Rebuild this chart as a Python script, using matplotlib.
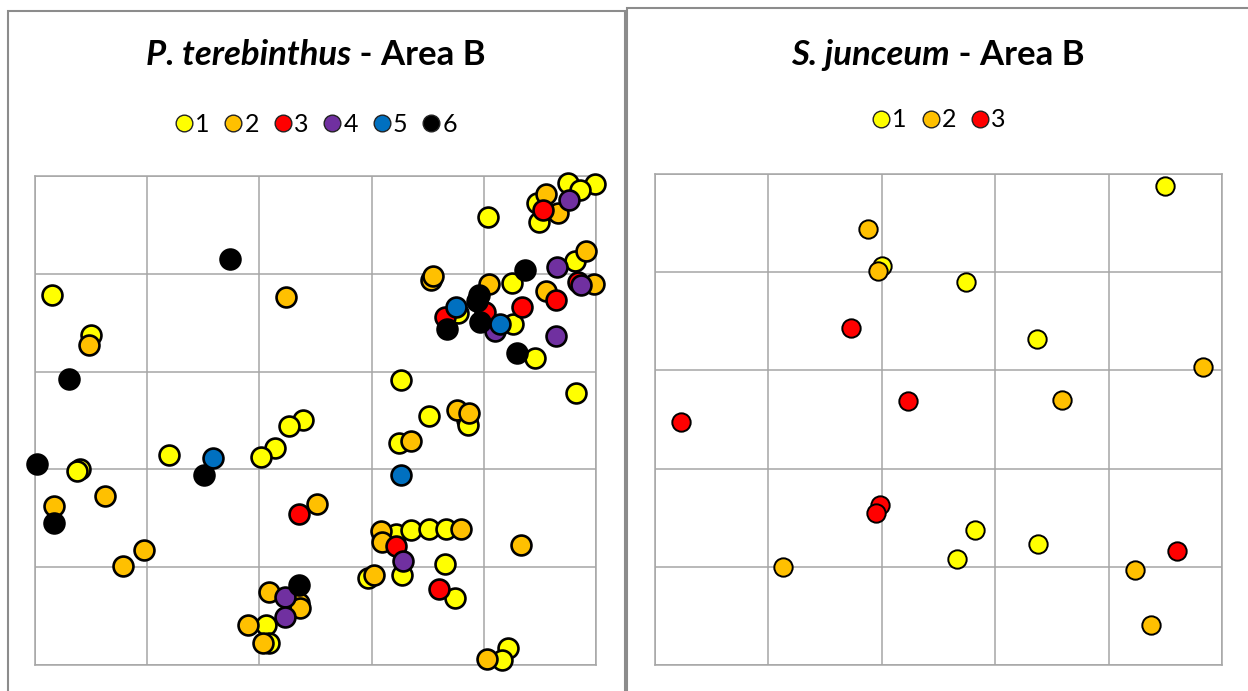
import matplotlib
matplotlib.use("Agg")
import matplotlib.pyplot as plt
from matplotlib.patches import Rectangle
from matplotlib.lines import Line2D

plt.rcParams['font.family'] = ['Lato', 'DejaVu Sans']

# P. terebinthus - Area B (classes 1..6)
pt_x1 = [4.75, 4.99, 4.86, 4.47, 4.49, 4.04, 4.81, 4.25, 3.77, 4.26, 4.46, 0.15, 0.50, 3.26,
         4.82, 3.51, 3.85, 3.86, 3.24, 2.39, 2.26, 2.14, 2.01, 1.19, 0.40, 0.37, 3.22, 3.35,
         3.51, 3.66, 3.27, 2.97, 3.65, 3.74, 2.06, 2.09, 4.22, 4.16]
pt_y1 = [4.93, 4.92, 4.86, 4.72, 4.53, 4.58, 4.13, 3.91, 3.60, 3.49, 3.14, 3.78, 3.37, 2.91,
         2.78, 2.55, 2.51, 2.45, 2.27, 2.51, 2.44, 2.22, 2.13, 2.15, 2.00, 1.98, 1.34, 1.38,
         1.39, 1.39, 0.92, 0.89, 1.03, 0.69, 0.41, 0.23, 0.17, 0.05]
pt_x2 = [4.55, 4.66, 4.91, 4.98, 4.55, 4.05, 3.53, 3.55, 2.24, 0.48, 3.76, 3.87, 3.35, 3.08,
         3.80, 3.09, 3.02, 4.33, 4.03, 0.62, 0.17, 2.51, 0.97, 0.78, 2.09, 2.35, 2.36, 1.90, 2.03]
pt_y2 = [4.82, 4.62, 4.23, 3.90, 3.82, 3.90, 3.94, 3.98, 3.76, 3.27, 2.61, 2.58, 2.29, 1.37,
         1.39, 1.26, 0.92, 1.23, 0.06, 1.73, 1.63, 1.65, 1.18, 1.01, 0.75, 0.63, 0.58, 0.41, 0.22]
pt_x3 = [4.53, 4.64, 4.84, 4.34, 3.65, 4.01, 2.35, 3.22, 3.60]
pt_y3 = [4.65, 3.73, 3.92, 3.66, 3.56, 3.61, 1.54, 1.22, 0.78]
pt_x4 = [4.76, 4.65, 4.87, 4.64, 4.10, 3.28, 2.23, 2.23]
pt_y4 = [4.75, 4.07, 3.89, 3.36, 3.42, 1.06, 0.70, 0.49]
pt_x5 = [3.75, 4.14, 1.59, 3.26]
pt_y5 = [3.66, 3.49, 2.12, 1.94]
pt_x6 = [1.74, 4.37, 3.96, 3.94, 3.97, 3.67, 4.30, 0.30, 0.02, 1.51, 0.17, 2.35]
pt_y6 = [4.15, 4.04, 3.78, 3.72, 3.51, 3.44, 3.19, 2.92, 2.06, 1.94, 1.45, 0.82]

# S. junceum - Area B (classes 1..3)
sj_x1 = [4.50, 2.00, 2.74, 3.37, 2.82, 3.38, 2.66]
sj_y1 = [4.88, 4.06, 3.90, 3.32, 1.37, 1.23, 1.08]
sj_x2 = [1.88, 1.97, 4.83, 3.59, 1.13, 4.23, 4.37]
sj_y2 = [4.44, 4.01, 3.03, 2.70, 1.00, 0.97, 0.41]
sj_x3 = [1.73, 2.23, 0.23, 1.98, 1.95, 4.60]
sj_y3 = [3.43, 2.69, 2.47, 1.63, 1.55, 1.16]

labels = ["1", "2", "3", "4", "5", "6"]
colors = ["#FFFF00", "#FFC000", "#FF0000", "#7030A0", "#0070C0", "#000000"]

W, H = 1248, 691
fig = plt.figure(figsize=(W / 100, H / 100), dpi=100)

# panel frames
fig.patches.append(Rectangle((8 / W, -0.1), 617 / W, 1.1 - 11 / H, transform=fig.transFigure,
                             fill=False, edgecolor="#8c8c8c", linewidth=1.5))
fig.patches.append(Rectangle((627 / W, -0.1), 0.6, 1.1 - 8 / H, transform=fig.transFigure,
                             fill=False, edgecolor="#8c8c8c", linewidth=1.5))


def setup(ax):
    ax.set_xlim(0, 5)
    ax.set_ylim(0, 5)
    ax.set_xticks([0, 1, 2, 3, 4, 5])
    ax.set_yticks([0, 1, 2, 3, 4, 5])
    ax.tick_params(length=0, labelbottom=False, labelleft=False)
    ax.grid(True, color="#a6a6a6", linewidth=1.1)
    ax.set_axisbelow(True)
    for s in ax.spines.values():
        s.set_color("#a6a6a6")
        s.set_linewidth(1.1)


def title(xc, yc, ital, rest):
    r = fig.canvas.get_renderer()
    t1 = fig.text(0, yc, ital, fontsize=25, fontweight="bold", fontstyle="italic", va="center")
    t2 = fig.text(0, yc, rest, fontsize=25, fontweight="bold", va="center")
    w1 = t1.get_window_extent(r).width / W
    w2 = t2.get_window_extent(r).width / W
    x0 = xc - (w1 + w2) / 2
    t1.set_x(x0)
    t2.set_x(x0 + w1)


def legend(ax, n, y):
    handles = [Line2D([], [], linestyle="none", marker="o", markersize=12,
                      markerfacecolor=colors[i], markeredgecolor="#222222",
                      markeredgewidth=1.0) for i in range(n)]
    ax.legend(handles, labels[:n], ncol=n, loc="center", bbox_to_anchor=(0.5, y),
              frameon=False, handletextpad=0.05, columnspacing=0.55, fontsize=18,
              handlelength=0.8, borderaxespad=0)


# left panel
ax1 = fig.add_axes([35 / W, 26 / H, 561 / W, 489 / H])
setup(ax1)
pt = [(pt_x1, pt_y1), (pt_x2, pt_y2), (pt_x3, pt_y3), (pt_x4, pt_y4), (pt_x6, pt_y6), (pt_x5, pt_y5)]
order = [0, 1, 2, 3, 5, 4]
for (xs, ys), k in zip(pt, order):
    ax1.scatter(xs, ys, s=205, c=colors[k], edgecolors="black", linewidths=1.9,
                clip_on=False, zorder=3)
legend(ax1, 6, 1.105)
title(316 / W, 1 - 55 / H, "P. terebinthus", " - Area B")

# right panel
ax2 = fig.add_axes([655 / W, 26 / H, 567 / W, 491 / H])
setup(ax2)
sj = [(sj_x1, sj_y1), (sj_x2, sj_y2), (sj_x3, sj_y3)]
for k, (xs, ys) in enumerate(sj):
    ax2.scatter(xs, ys, s=175, c=colors[k], edgecolors="black", linewidths=1.4,
                clip_on=False, zorder=3)
legend(ax2, 3, 1.11)
title(938 / W, 1 - 55 / H, "S. junceum", " - Area B")

fig.savefig("out.png", dpi=100)
